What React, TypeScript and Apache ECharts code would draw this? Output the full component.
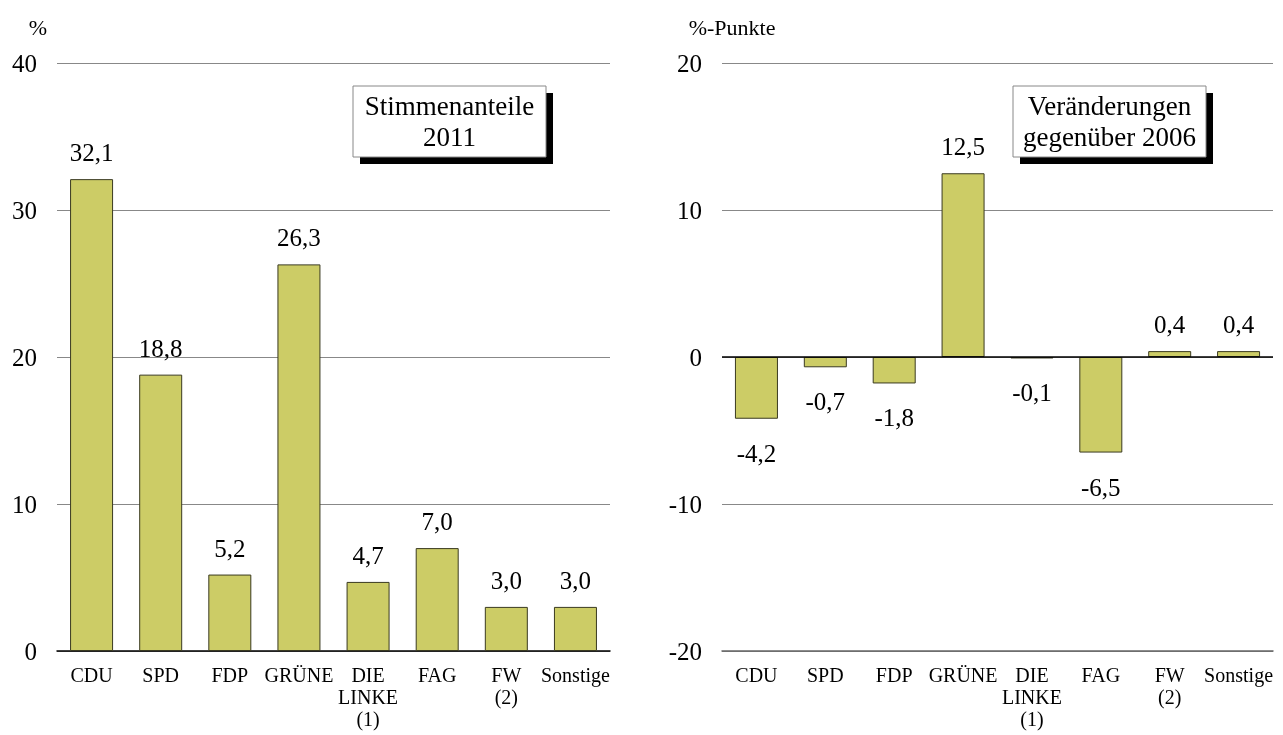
import React, { useEffect, useRef } from "react";
import * as echarts from "echarts";

const categories = ["CDU", "SPD", "FDP", "GRÜNE", "DIE\nLINKE\n(1)", "FAG", "FW\n(2)", "Sonstige"];
const shares2011 = [32.1, 18.8, 5.2, 26.3, 4.7, 7.0, 3.0, 3.0];
const changesVs2006 = [-4.2, -0.7, -1.8, 12.5, -0.1, -6.5, 0.4, 0.4];
const leftTicks = { min: 0, max: 40, interval: 10 };
const rightTicks = { min: -20, max: 20, interval: 10 };
const leftTitle = ["Stimmenanteile", "2011"];
const rightTitle = ["Veränderungen", "gegenüber 2006"];
const leftUnit = "%";
const rightUnit = "%-Punkte";

const FONT = "'Liberation Serif', 'Times New Roman', serif";
const BAR = "#CCCC66";
const fmt = (v: number) => v.toFixed(1).replace(".", ",");

function titleBox(x: number, y: number, w: number, h: number, lines: string[]) {
  return [
    { type: "rect", shape: { x: x + 7, y: y + 7, width: w, height: h }, style: { fill: "#000" }, z: 10 },
    { type: "rect", shape: { x, y, width: w, height: h }, style: { fill: "#fff", stroke: "#888", lineWidth: 1 }, z: 11 },
    {
      type: "text",
      x: x + w / 2,
      y: y + h / 2,
      style: {
        text: lines.join("\n"),
        fontFamily: FONT,
        fontSize: 27,
        lineHeight: 31,
        fill: "#000",
        align: "center",
        verticalAlign: "middle",
      },
      z: 12,
    },
  ];
}

export default function App() {
  const ref = useRef<HTMLDivElement>(null);
  useEffect(() => {
    if (!ref.current) return;
    const chart = echarts.init(ref.current, undefined, { renderer: "svg" });
    const catAxis = (gridIndex: number, lineShow: boolean, lineColor: string) => ({
      type: "category",
      gridIndex,
      data: categories,
      axisTick: { show: false },
      axisLine: { show: lineShow, onZero: false, lineStyle: { color: lineColor, width: 1.5 } },
      axisLabel: { fontFamily: FONT, fontSize: 20, lineHeight: 22, color: "#000", margin: 13, interval: 0 },
    });
    const valAxis = (gridIndex: number, t: { min: number; max: number; interval: number }) => ({
      type: "value",
      gridIndex,
      min: t.min,
      max: t.max,
      interval: t.interval,
      axisLine: { show: false },
      axisTick: { show: false },
      axisLabel: { fontFamily: FONT, fontSize: 25, color: "#000", margin: 20 },
      splitLine: { show: true, lineStyle: { color: "#888", width: 1 } },
    });
    const labelFor = (v: number) => ({
      show: true,
      position: v >= 0 ? "top" : "bottom",
      distance: v >= 0 ? 14 : 22,
      formatter: (p: any) => fmt(p.value),
      fontFamily: FONT,
      fontSize: 25,
      color: "#000",
    });
    chart.setOption({
      animation: false,
      grid: [
        { left: 57, top: 63, width: 553, height: 588 },
        { left: 722, top: 63, width: 551, height: 588 },
      ],
      xAxis: [catAxis(0, true, "#000"), catAxis(1, true, "#666")],
      yAxis: [valAxis(0, leftTicks), valAxis(1, rightTicks)],
      series: [
        {
          type: "bar",
          xAxisIndex: 0,
          yAxisIndex: 0,
          barWidth: 43,
          itemStyle: { color: BAR, borderColor: "#3a3a20", borderWidth: 1 },
          data: shares2011.map((v) => ({ value: v, label: labelFor(v) })),
        },
        {
          type: "bar",
          xAxisIndex: 1,
          yAxisIndex: 1,
          barWidth: 43,
          itemStyle: { color: BAR, borderColor: "#3a3a20", borderWidth: 1 },
          data: changesVs2006.map((v) => ({ value: v, label: labelFor(v) })),
          markLine: {
            silent: true,
            symbol: "none",
            label: { show: false },
            lineStyle: { color: "#000", width: 1.5, type: "solid" },
            data: [{ yAxis: 0 }],
            z: 5,
          },
        },
      ],
      graphic: [
        { type: "text", x: 38, y: 27, style: { text: leftUnit, fontFamily: FONT, fontSize: 22, fill: "#000", align: "center", verticalAlign: "middle" } },
        { type: "text", x: 732, y: 27, style: { text: rightUnit, fontFamily: FONT, fontSize: 22, fill: "#000", align: "center", verticalAlign: "middle" } },
        ...titleBox(353, 86, 193, 71, leftTitle),
        ...titleBox(1013, 86, 193, 71, rightTitle),
      ],
    });
    return () => chart.dispose();
  }, []);
  return <div ref={ref} style={{ position: "fixed", left: 0, top: 0, width: 1283, height: 735 }} />;
}
